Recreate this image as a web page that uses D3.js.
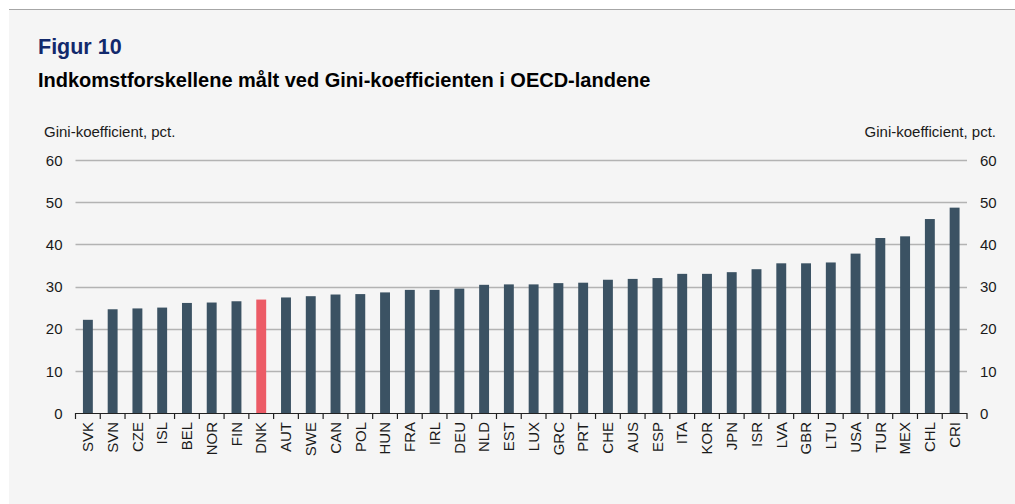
<!DOCTYPE html>
<html>
<head>
<meta charset="utf-8">
<script src="https://cdn.jsdelivr.net/npm/d3@7"></script>
<style>
  html, body { margin: 0; padding: 0; background: #ffffff; }
  svg { display: block; font-family: "Liberation Sans", Arial, sans-serif; }
</style>
</head>
<body>
<svg id="chart" width="1015" height="504"></svg>
<script>
const categories = ["SVK","SVN","CZE","ISL","BEL","NOR","FIN","DNK","AUT","SWE","CAN","POL","HUN","FRA","IRL","DEU","NLD","EST","LUX","GRC","PRT","CHE","AUS","ESP","ITA","KOR","JPN","ISR","LVA","GBR","LTU","USA","TUR","MEX","CHL","CRI"];
const values = [22.1,24.6,24.8,25.0,26.1,26.2,26.5,26.9,27.4,27.7,28.1,28.2,28.6,29.2,29.2,29.5,30.4,30.5,30.5,30.8,30.9,31.6,31.8,32.0,33.0,33.0,33.4,34.1,35.5,35.5,35.7,37.8,41.5,41.9,46.0,48.7];
const highlight = ["DNK"];
const yTicks = [0,10,20,30,40,50,60];
const title = "Figur 10";
const subtitle = "Indkomstforskellene målt ved Gini-koefficienten i OECD-landene";
const axisLabel = "Gini-koefficient, pct.";

const svg = d3.select("#chart");
const W = 1015, H = 504;
const FF = "Liberation Sans, Arial, sans-serif";

// panel background
svg.append("rect").attr("x", 9).attr("y", 9).attr("width", W - 9).attr("height", H - 9).attr("fill", "#f5f5f5");
svg.append("line").attr("x1", 9).attr("x2", W).attr("y1", 9.5).attr("y2", 9.5).attr("stroke", "#a6a6a6").attr("stroke-width", 1.2);

svg.append("text").attr("x", 38).attr("y", 54).attr("fill", "#12296c")
  .attr("font-size", 21.5).attr("font-weight", "bold").text(title);
svg.append("text").attr("x", 38).attr("y", 87).attr("fill", "#000")
  .attr("font-size", 20).attr("font-weight", "bold").text(subtitle);

const m = { left: 75.5, right: 967, top: 160, bottom: 413 };
const x = d3.scaleBand().domain(categories).range([m.left, m.right]).paddingInner(0.6).paddingOuter(0.3);
const y = d3.scaleLinear().domain([0, 60]).range([m.bottom, m.top]);

// gridlines
svg.append("g").selectAll("line").data(yTicks.filter(d => d > 0)).join("line")
  .attr("x1", m.left).attr("x2", m.right)
  .attr("y1", d => Math.round(y(d)) + 0.5).attr("y2", d => Math.round(y(d)) + 0.5)
  .attr("stroke", "#b3b3b3").attr("stroke-width", 1.5);

// bars
svg.append("g").selectAll("rect").data(categories).join("rect")
  .attr("x", d => x(d)).attr("width", x.bandwidth())
  .attr("y", (d, i) => y(values[i])).attr("height", (d, i) => y(0) - y(values[i]))
  .attr("fill", d => highlight.includes(d) ? "#ec5b66" : "#3b5263");

// left axis labels
const yl = d3.axisLeft(y).tickValues(yTicks).tickSize(0).tickPadding(13);
const gl = svg.append("g").attr("transform", `translate(${m.left},0)`).call(yl);
gl.select(".domain").remove();
gl.selectAll("text").attr("font-size", 15).attr("fill", "#1a1a1a").attr("font-family", FF).attr("dy", "0.35em");

const yr = d3.axisRight(y).tickValues(yTicks).tickSize(0).tickPadding(13);
const gr = svg.append("g").attr("transform", `translate(${m.right},0)`).call(yr);
gr.select(".domain").remove();
gr.selectAll("text").attr("font-size", 15).attr("fill", "#1a1a1a").attr("font-family", FF).attr("dy", "0.35em");

// x axis with ticks at band boundaries
const xa = d3.axisBottom(x).tickSize(0).tickPadding(8);
const gx = svg.append("g").attr("transform", `translate(0,${m.bottom})`).call(xa);
gx.select(".domain").remove();
gx.selectAll("text")
  .attr("font-size", 15).attr("fill", "#1a1a1a").attr("font-family", FF)
  .attr("transform", "rotate(-90)").attr("text-anchor", "end")
  .attr("x", -9).attr("y", 0).attr("dy", "0.35em");
svg.append("line").attr("x1", m.left).attr("x2", m.right).attr("y1", m.bottom + 0.5).attr("y2", m.bottom + 0.5)
  .attr("stroke", "#222").attr("stroke-width", 1.2);
const step = x.step();
const bounds = d3.range(categories.length + 1).map(i => m.left + i * step);
svg.append("g").selectAll("line").data(bounds).join("line")
  .attr("x1", d => d).attr("x2", d => d).attr("y1", m.bottom).attr("y2", m.bottom + 6)
  .attr("stroke", "#222").attr("stroke-width", 1.2);

// axis titles
svg.append("text").attr("x", 44).attr("y", 137).attr("font-size", 15).attr("fill", "#1a1a1a").text(axisLabel);
svg.append("text").attr("x", 996).attr("y", 137).attr("font-size", 15).attr("fill", "#1a1a1a").attr("text-anchor", "end").text(axisLabel);
</script>
</body>
</html>
